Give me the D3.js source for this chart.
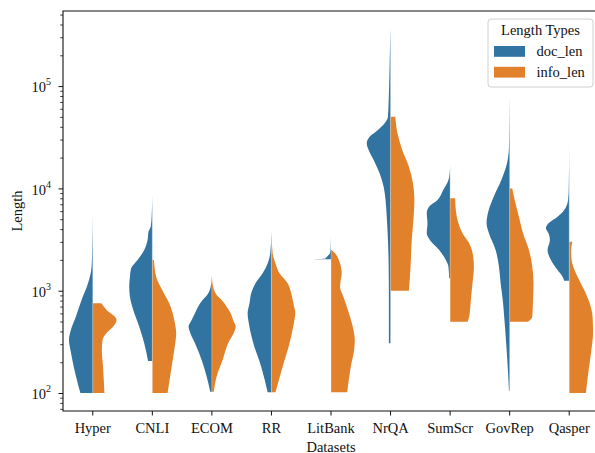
<!DOCTYPE html>
<html>
<head>
<meta charset="utf-8">
<script src="https://cdn.jsdelivr.net/npm/d3@7"></script>
<style>
  body { margin: 0; background: #fff; }
  text { font-family: "Liberation Serif", "Times New Roman", serif; fill: #111; }
</style>
</head>
<body>
<svg id="chart" width="595" height="453"></svg>
<script>
// datasets on the x axis
const datasets = ["Hyper", "CNLI", "ECOM", "RR", "LitBank", "NrQA", "SumScr", "GovRep", "Qasper"];
const lengthTypes = ["doc_len", "info_len"];

// violin profiles: [length, relative density (1 = widest)]
const docLen = [
  [[100,.52],[135,.67],[181,.80],[251,.92],[330,1.0],[413,.92],[557,.71],[811,.47],[1180,.20],[1718,.05],[2818,.02],[5495,0]],
  [[206,.18],[306,.34],[445,.55],[647,.80],[873,.94],[1094,.97],[1371,.94],[1656,.89],[1995,.62],[2500,.34],[3133,.20],[3776,.16],[4227,.07],[5284,.03],[8610,0]],
  [[103,.07],[145,.22],[210,.43],[306,.71],[413,.95],[445,.98],[518,.85],[601,.71],[698,.58],[811,.39],[908,.20],[1094,.05],[1393,0]],
  [[102,.16],[181,.43],[306,.76],[480,.95],[601,1.0],[753,.92],[942,.85],[1180,.67],[1479,.37],[1849,.16],[2317,.05],[3776,0]],
  [[2030,1.0],[2045,.5],[2070,.25],[2120,.19],[2200,.13],[2290,.06],[2400,.03],[2800,.01],[3400,0]],
  [[306,.07],[811,.07],[1778,.08],[3981,.13],[5248,.16],[7709,.21],[10399,.29],[14028,.46],[18967,.71],[23714,.92],[27606,1.0],[31989,.88],[37239,.53],[43251,.25],[50234,.11],[70795,.08],[100000,.06],[158489,.04],[251189,.02],[371535,0]],
  [[1321,.04],[1718,.07],[1995,.18],[2500,.46],[3133,.85],[3639,.98],[4560,.95],[5702,.98],[6637,.88],[7709,.53],[9638,.29],[12078,.07],[15000,.01],[17000,0]],
  [[105,.03],[178,.08],[316,.15],[557,.23],[811,.29],[1180,.38],[1718,.45],[2500,.59],[3639,.87],[4560,.97],[6152,.88],[8300,.67],[12078,.35],[17700,.11],[25000,.03],[40000,.015],[79433,0]],
  [[1253,.21],[1371,.28],[1592,.49],[1995,.77],[2500,.91],[3133,.81],[3639,.87],[4074,.98],[4560,.87],[5284,.49],[6152,.21],[7709,.05],[10000,.02],[27542,0]]
];
const infoLen = [
  [[100,.49],[181,.43],[263,.38],[330,.41],[386,.58],[442,.84],[518,1.0],[541,.97],[647,.58],[753,.36]],
  [[100,.64],[181,.81],[263,.92],[384,1.0],[518,.92],[753,.71],[1000,.43],[1371,.16],[1995,.07]],
  [[103,.08],[145,.20],[210,.45],[306,.68],[413,.97],[445,1.0],[518,.89],[601,.79],[698,.62],[811,.41],[908,.20],[1050,.07],[1400,0]],
  [[102,.17],[181,.47],[306,.76],[480,.94],[601,1.0],[753,.92],[942,.83],[1180,.68],[1479,.34],[1849,.17],[2317,.05],[3776,0]],
  [[102,.68],[181,.83],[263,.97],[330,1.0],[384,.97],[557,.80],[873,.52],[1094,.38],[1274,.41],[1479,.45],[1849,.38],[2317,.17],[2500,.03]],
  [[1000,.77],[1718,.84],[3133,.89],[5284,.97],[7709,1.0],[11220,.94],[16293,.77],[23714,.49],[34514,.29],[50234,.20]],
  [[498,.73],[557,.80],[811,.87],[1180,.94],[1718,1.0],[2148,.97],[2904,.80],[3639,.52],[4560,.35],[6152,.24],[8000,.21]],
  [[498,.77],[557,.95],[811,.98],[1180,1.0],[1718,.95],[2500,.81],[3639,.56],[5284,.39],[7709,.21],[10000,.11]],
  [[100,.70],[158,.80],[251,.92],[398,1.0],[557,.98],[753,.86],[1016,.63],[1371,.35],[1718,.17],[1995,.10],[2500,.08],[3013,.13]]
];

const majorTicks = [100, 1000, 10000, 100000];
const majorExp = ["2", "3", "4", "5"];

const colors = ["#3274a1", "#e1812c"];

const svg = d3.select("#chart");
const mLeft = 63, mTop = 11, mBottom = 411, mRight = 599;

const x = d3.scaleBand().domain(datasets).range([mLeft, mRight]);
const y = d3.scaleLog().domain([66.7, 542000]).range([mBottom, mTop]);
const halfW = x.bandwidth() * 0.8 / 2;
const w = d3.scaleLinear().domain([0, 1]).range([0, halfW]);

// violins
const halves = [];
datasets.forEach((d, i) => {
  halves.push({ name: d, side: -1, type: 0, pts: docLen[i] });
  halves.push({ name: d, side: 1, type: 1, pts: infoLen[i] });
});

const area = d3.area()
  .curve(d3.curveMonotoneY)
  .y(p => y(p[0]));

svg.append("g")
  .selectAll("path")
  .data(halves)
  .join("path")
  .attr("d", h => {
    const cx = x(h.name) + x.bandwidth() / 2;
    const pts = h.pts.slice().reverse();
    return area.x0(cx).x1(p => cx + h.side * w(p[1]))(pts);
  })
  .attr("fill", h => colors[h.type])
  .attr("stroke", "none");

// thin light seam between halves
svg.append("g")
  .selectAll("line")
  .data(datasets)
  .join("line")
  .attr("x1", d => x(d) + x.bandwidth() / 2)
  .attr("x2", d => x(d) + x.bandwidth() / 2)
  .attr("y1", (d, i) => y(Math.max(docLen[i][docLen[i].length - 1][0], infoLen[i][infoLen[i].length - 1][0])))
  .attr("y2", (d, i) => y(Math.min(docLen[i][0][0], infoLen[i][0][0])))
  .attr("stroke", "#fff")
  .attr("stroke-opacity", 0.45)
  .attr("stroke-width", 0.6);

// x axis
const xAxis = svg.append("g")
  .attr("transform", `translate(0,${mBottom})`)
  .call(d3.axisBottom(x).tickSize(4.5).tickPadding(7));
xAxis.select(".domain").remove();
xAxis.selectAll(".tick line").attr("stroke", "#111").attr("stroke-width", 1);
xAxis.selectAll(".tick text").attr("font-size", "14.5px").attr("fill", "#111")
  .style("font-family", '"Liberation Serif", "Times New Roman", serif');

// y axis: minor ticks
const minor = y.ticks().filter(v => !majorTicks.includes(v));
svg.append("g")
  .attr("transform", `translate(${mLeft},0)`)
  .call(d3.axisLeft(y).tickValues(minor).tickSize(2.8).tickFormat(""))
  .call(g => g.select(".domain").remove())
  .selectAll(".tick line").attr("stroke", "#111").attr("stroke-width", 0.8);

// y axis: major ticks
const yAxis = svg.append("g")
  .attr("transform", `translate(${mLeft},0)`)
  .call(d3.axisLeft(y).tickValues(majorTicks).tickSize(4.5).tickFormat(""));
yAxis.select(".domain").remove();
yAxis.selectAll(".tick line").attr("stroke", "#111").attr("stroke-width", 1);

const yLab = svg.append("g")
  .selectAll("text")
  .data(majorTicks)
  .join("text")
  .attr("x", 51)
  .attr("y", v => y(v) + 6.3)
  .attr("text-anchor", "end")
  .attr("font-size", "14.5px");
yLab.append("tspan").text("10");
yLab.append("tspan")
  .attr("font-size", "10px")
  .attr("dy", -7)
  .text((v, i) => majorExp[i]);

// spines
svg.append("path")
  .attr("d", `M${mLeft},${mTop}H${mRight}V${mBottom}H${mLeft}Z`)
  .attr("fill", "none")
  .attr("stroke", "#111")
  .attr("stroke-width", 1.1);

// axis titles
svg.append("text")
  .attr("x", (mLeft + mRight) / 2)
  .attr("y", 451.5)
  .attr("text-anchor", "middle")
  .attr("font-size", "14.5px")
  .text("Datasets");

svg.append("text")
  .attr("transform", `translate(21.5,${(mTop + mBottom) / 2}) rotate(-90)`)
  .attr("text-anchor", "middle")
  .attr("font-size", "14.5px")
  .text("Length");

// legend
const lg = svg.append("g").attr("transform", "translate(488,19)");
lg.append("rect")
  .attr("width", 105).attr("height", 68)
  .attr("rx", 3)
  .attr("fill", "#fff").attr("fill-opacity", 0.8)
  .attr("stroke", "#d0d0d0").attr("stroke-width", 1);
lg.append("text")
  .attr("x", 52.5).attr("y", 15.6)
  .attr("text-anchor", "middle")
  .attr("font-size", "14.5px")
  .text("Length Types");
const items = lg.selectAll("g.item")
  .data(lengthTypes)
  .join("g")
  .attr("class", "item")
  .attr("transform", (d, i) => `translate(6,${27 + i * 20.8})`);
items.append("rect")
  .attr("width", 31).attr("height", 10.8)
  .attr("fill", (d, i) => colors[i]);
items.append("text")
  .attr("x", 42.5).attr("y", 10.3)
  .attr("font-size", "14.5px")
  .text(d => d);
</script>
</body>
</html>
